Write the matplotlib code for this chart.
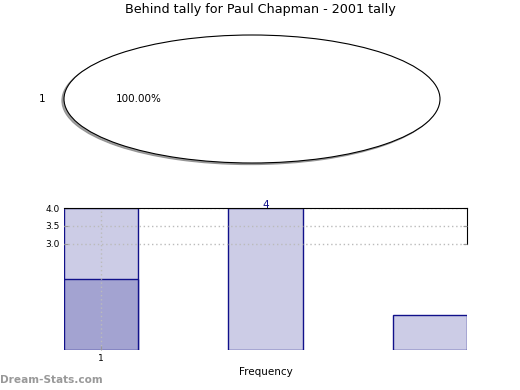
import matplotlib
matplotlib.use("Agg")
import matplotlib.pyplot as plt

title = "Behind tally for Paul Chapman - 2001 tally"
pie_labels = ["1"]
pie_values = [1]

bar_pos = [0, 1, 2]
light_vals = [4, 4, 1]
dark_pos = [0]
dark_vals = [2]
tick_pos = [0]
tick_labels = ["1"]
yticks = [3.0, 3.5, 4.0]

light = "#ccccE6"
dark = "#a3a3d1"
edge = "#10108a"

fig = plt.figure(figsize=(5.2, 3.9), dpi=100)
fig.text(0.5, 1 - 10 / 390, title, ha="center", va="center", fontsize=9.2)

# pie on top, squashed into an ellipse
ax1 = fig.add_axes([64 / 520, 1 - 163 / 390, 376 / 520, 128 / 390])
wedges, texts, autotexts = ax1.pie(pie_values, labels=pie_labels, autopct="%.2f%%",
                                   shadow=dict(ox=-0.008, oy=-0.018, color="#888888",
                                               alpha=0.8),
                                   colors=["white"],
                                   wedgeprops=dict(edgecolor="black", linewidth=0.8),
                                   textprops=dict(fontsize=7.5))
ax1.set_aspect("auto")
ax1.set_xlim(-1, 1)
ax1.set_ylim(-1, 1)
for t in texts + autotexts:
    t.set_clip_on(False)
ax1.axis("off")

# bars below
ax2 = fig.add_axes([64 / 520, 1 - 350 / 390, 403 / 520, 142 / 390])
ax2.bar(bar_pos, light_vals, width=0.45, color=light, edgecolor=edge, linewidth=1)
ax2.bar(dark_pos, dark_vals, width=0.45, color=dark, edgecolor=edge, linewidth=1)
ax2.text(bar_pos[1], light_vals[1] - 0.06, str(light_vals[1]), ha="center", va="bottom",
         color=edge, fontsize=7.5)
ax2.set_xlim(-0.225, 2.225)
ax2.set_ylim(0, 4)
ax2.set_xticks(tick_pos)
ax2.set_xticklabels(tick_labels)
ax2.set_yticks(yticks)
ax2.set_yticklabels(["%.1f" % v for v in yticks])
ax2.tick_params(axis="both", labelsize=6.5, direction="in", length=3, color="#999999",
                pad=3)
ax2.tick_params(axis="y", right=True)
ax2.grid(True, linestyle=(0, (1, 2)), color="#bbbbbb", linewidth=1)
ax2.set_axisbelow(False)
ax2.spines["left"].set_visible(False)
ax2.spines["bottom"].set_visible(False)
ax2.spines["right"].set_bounds(3, 4)
ax2.spines["top"].set_zorder(5)
ax2.set_xlabel("Frequency", fontsize=7.5, labelpad=3)

fig.text(0.0, 1 - 380 / 390, "Dream-Stats.com", ha="left", va="center",
         fontsize=7.6, fontweight="bold", color="#999999")

fig.savefig("out.png", dpi=100)
